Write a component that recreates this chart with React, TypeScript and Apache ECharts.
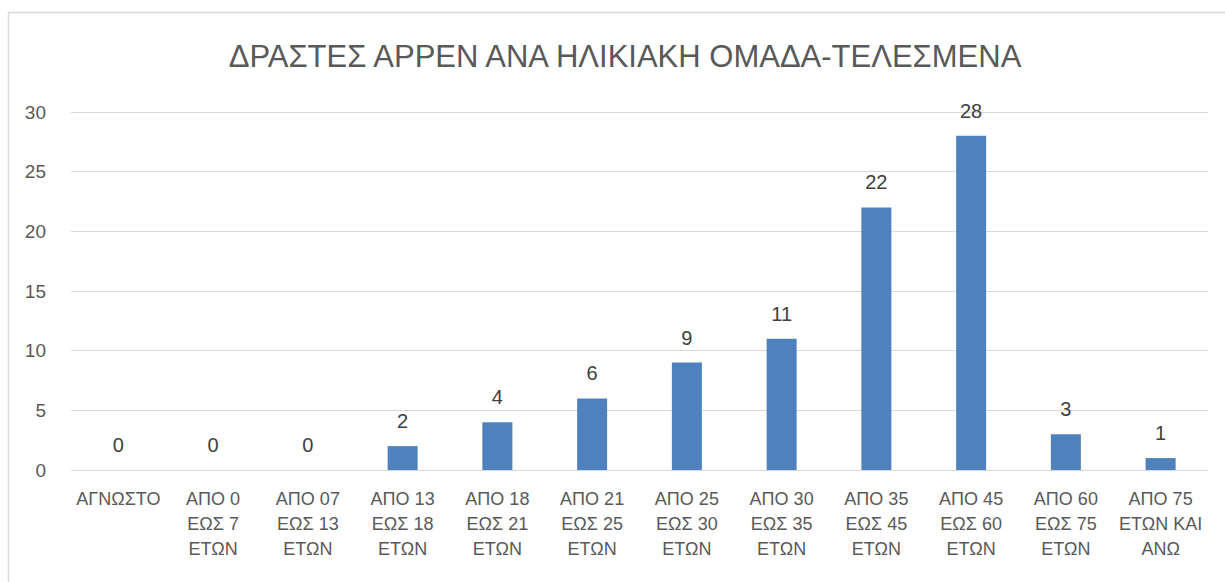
import React, { useEffect, useRef } from "react";
import * as echarts from "echarts";

const categories = [
  "ΑΓΝΩΣΤΟ",
  "ΑΠΟ 0\nΕΩΣ 7\nΕΤΩΝ",
  "ΑΠΟ 07\nΕΩΣ 13\nΕΤΩΝ",
  "ΑΠΟ 13\nΕΩΣ 18\nΕΤΩΝ",
  "ΑΠΟ 18\nΕΩΣ 21\nΕΤΩΝ",
  "ΑΠΟ 21\nΕΩΣ 25\nΕΤΩΝ",
  "ΑΠΟ 25\nΕΩΣ 30\nΕΤΩΝ",
  "ΑΠΟ 30\nΕΩΣ 35\nΕΤΩΝ",
  "ΑΠΟ 35\nΕΩΣ 45\nΕΤΩΝ",
  "ΑΠΟ 45\nΕΩΣ 60\nΕΤΩΝ",
  "ΑΠΟ 60\nΕΩΣ 75\nΕΤΩΝ",
  "ΑΠΟ 75\nΕΤΩΝ ΚΑΙ\nΑΝΩ",
];
const values = [0, 0, 0, 2, 4, 6, 9, 11, 22, 28, 3, 1];
const title = "ΔΡΑΣΤΕΣ ΑΡΡΕΝ ΑΝΑ ΗΛΙΚΙΑΚΗ ΟΜΑΔΑ-ΤΕΛΕΣΜΕΝΑ";

const FONT = "'Liberation Sans', 'DejaVu Sans', sans-serif";

export default function App() {
  const ref = useRef<HTMLDivElement>(null);
  useEffect(() => {
    if (!ref.current) return;
    const chart = echarts.init(ref.current, null, { renderer: "svg" });
    chart.setOption({
      animation: false,
      backgroundColor: "#ffffff",
      title: {
        text: title,
        left: 620,
        textAlign: "center",
        top: 36,
        textStyle: { fontFamily: FONT, fontSize: 31, fontWeight: "normal", color: "#595959" },
      },
      graphic: [
        {
          type: "rect",
          shape: { x: 8.5, y: 12.5, width: 1240, height: 600 },
          style: { fill: "none", stroke: "#d9d9d9", lineWidth: 1.5 },
          silent: true,
          z: -10,
        },
      ],
      grid: { left: 71, right: 17, top: 112, bottom: 112, containLabel: false },
      xAxis: {
        type: "category",
        data: categories,
        axisLine: { show: true, lineStyle: { color: "#d9d9d9", width: 1 } },
        axisTick: { show: false },
        axisLabel: {
          interval: 0,
          fontFamily: FONT,
          fontSize: 18,
          color: "#595959",
          lineHeight: 25,
          margin: 16,
          verticalAlign: "top",
        },
      },
      yAxis: {
        type: "value",
        min: 0,
        max: 30,
        interval: 5,
        axisLine: { show: false },
        axisTick: { show: false },
        splitLine: { lineStyle: { color: "#d9d9d9", width: 1 } },
        axisLabel: { fontFamily: FONT, fontSize: 19, color: "#595959", margin: 25 },
      },
      series: [
        {
          type: "bar",
          data: values,
          barWidth: 30,
          itemStyle: { color: "#4f81bd" },
          label: {
            show: true,
            position: "top",
            distance: 15,
            fontFamily: FONT,
            fontSize: 20,
            color: "#404040",
          },
        },
      ],
    });
    return () => chart.dispose();
  }, []);
  return (
    <div
      ref={ref}
      style={{ position: "fixed", left: 0, top: 0, width: 1225, height: 582 }}
    />
  );
}
